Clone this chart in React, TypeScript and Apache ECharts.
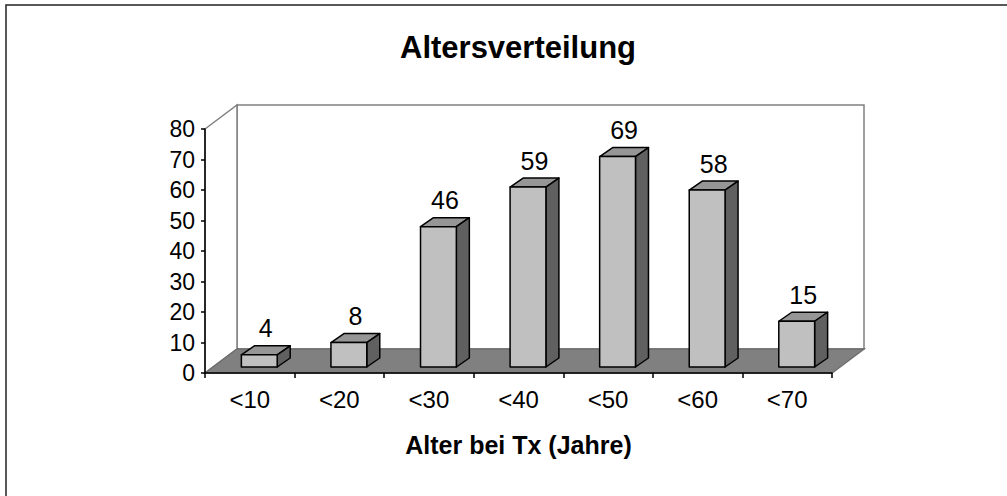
import React, { useEffect, useRef } from "react";
import * as echarts from "echarts";

const categories = ["<10", "<20", "<30", "<40", "<50", "<60", "<70"];
const values = [4, 8, 46, 59, 69, 58, 15];
const yMin = 0;
const yMax = 80;
const yInterval = 10;
const titleText = "Altersverteilung";
const xAxisTitle = "Alter bei Tx (Jahre)";

const FONT = "'Liberation Sans', Arial, sans-serif";

export default function App() {
  const ref = useRef<HTMLDivElement>(null);

  useEffect(() => {
    if (!ref.current) return;
    const chart = echarts.init(ref.current, null, { renderer: "svg" });

    const DX = 32;
    const DY = -24;
    const FX = 9.5;
    const FY = -6;
    const BDX = 13;
    const BDY = -9;

    const frameRender = (params: any, api: any) => {
      const band = api.size([1, 0])[0];
      const c0 = api.coord([0, yMin]);
      const cN = api.coord([categories.length - 1, yMin]);
      const ct = api.coord([0, yMax]);
      const left = c0[0] - band / 2;
      const right = cN[0] + band / 2;
      const bottom = c0[1];
      const top = ct[1];
      return {
        type: "group",
        children: [
          {
            type: "rect",
            shape: { x: left + DX, y: top + DY, width: right - left, height: bottom - top },
            style: { fill: "#ffffff", stroke: "#808080", lineWidth: 1.5 },
          },
          {
            type: "polygon",
            shape: {
              points: [
                [left, top],
                [left + DX, top + DY],
                [left + DX, bottom + DY],
                [left, bottom],
              ],
            },
            style: { fill: "#ffffff", stroke: "#808080", lineWidth: 1.5 },
          },
          {
            type: "polygon",
            shape: {
              points: [
                [left, bottom],
                [right, bottom],
                [right + DX, bottom + DY],
                [left + DX, bottom + DY],
              ],
            },
            style: { fill: "#808080", stroke: "#6e6e6e", lineWidth: 1.5 },
          },
        ],
      };
    };

    const barRender = (params: any, api: any) => {
      const i = api.value(0);
      const v = api.value(1);
      const base = api.coord([i, 0]);
      const topP = api.coord([i, v]);
      const band = api.size([1, 0])[0];
      const w = band * 0.4;
      const x0 = base[0] - w / 2 + FX;
      const x1 = x0 + w;
      const yb = base[1] + FY;
      const yt = topP[1] + FY;
      const stroke = { stroke: "#000000", lineWidth: 1.5, lineJoin: "round" };
      return {
        type: "group",
        children: [
          {
            type: "polygon",
            shape: {
              points: [
                [x0, yt],
                [x0 + BDX, yt + BDY],
                [x1 + BDX, yt + BDY],
                [x1, yt],
              ],
            },
            style: { fill: "#969696", ...stroke },
          },
          {
            type: "polygon",
            shape: {
              points: [
                [x1, yt],
                [x1 + BDX, yt + BDY],
                [x1 + BDX, yb + BDY],
                [x1, yb],
              ],
            },
            style: { fill: "#606060", ...stroke },
          },
          {
            type: "rect",
            shape: { x: x0, y: yt, width: w, height: yb - yt },
            style: { fill: "#c0c0c0", ...stroke },
          },
          {
            type: "text",
            x: x0 + w / 2 + BDX / 2,
            y: yt + BDY - 5,
            style: {
              text: String(v),
              fontSize: 25,
              fontFamily: FONT,
              fill: "#000000",
              textAlign: "center",
              textVerticalAlign: "bottom",
            },
          },
        ],
      };
    };

    chart.setOption({
      animation: false,
      backgroundColor: "#ffffff",
      title: {
        text: titleText,
        left: 395,
        top: 27,
        textStyle: { fontSize: 31, fontWeight: "bold", fontFamily: FONT, color: "#000000" },
      },
      graphic: [
        {
          type: "rect",
          shape: { x: 6, y: 5, width: 1100, height: 600 },
          style: { fill: "none", stroke: "#222222", lineWidth: 1.5 },
          silent: true,
        },
      ],
      grid: { left: 205, right: 175, top: 129, bottom: 123 },
      xAxis: {
        type: "category",
        data: categories,
        z: 3,
        axisLine: { lineStyle: { color: "#000000", width: 1.5 } },
        axisTick: { show: true, length: 5, lineStyle: { color: "#000000", width: 1.5 } },
        axisLabel: { fontSize: 24, fontFamily: FONT, color: "#000000", margin: 14 },
        name: xAxisTitle,
        nameLocation: "middle",
        nameGap: 59,
        nameTextStyle: { fontSize: 25, fontWeight: "bold", fontFamily: FONT, color: "#000000" },
        splitLine: { show: false },
      },
      yAxis: {
        type: "value",
        min: yMin,
        max: yMax,
        interval: yInterval,
        z: 3,
        axisLine: { show: true, lineStyle: { color: "#000000", width: 1.5 } },
        axisTick: { show: true, length: 4, lineStyle: { color: "#000000", width: 1.5 } },
        axisLabel: { fontSize: 23, fontFamily: FONT, color: "#000000", margin: 10 },
        splitLine: { show: false },
      },
      series: [
        {
          type: "custom",
          name: "frame",
          z: 1,
          silent: true,
          clip: false,
          renderItem: frameRender,
          data: [[0, 0]],
          encode: { x: 0, y: 1 },
        },
        {
          type: "custom",
          name: "Alter",
          z: 4,
          clip: false,
          renderItem: barRender,
          data: values.map((v, i) => [i, v]),
          encode: { x: 0, y: 1 },
        },
      ],
    });

    return () => chart.dispose();
  }, []);

  return (
    <div
      ref={ref}
      style={{ position: "absolute", left: 0, top: 0, width: 1007, height: 496 }}
    />
  );
}
